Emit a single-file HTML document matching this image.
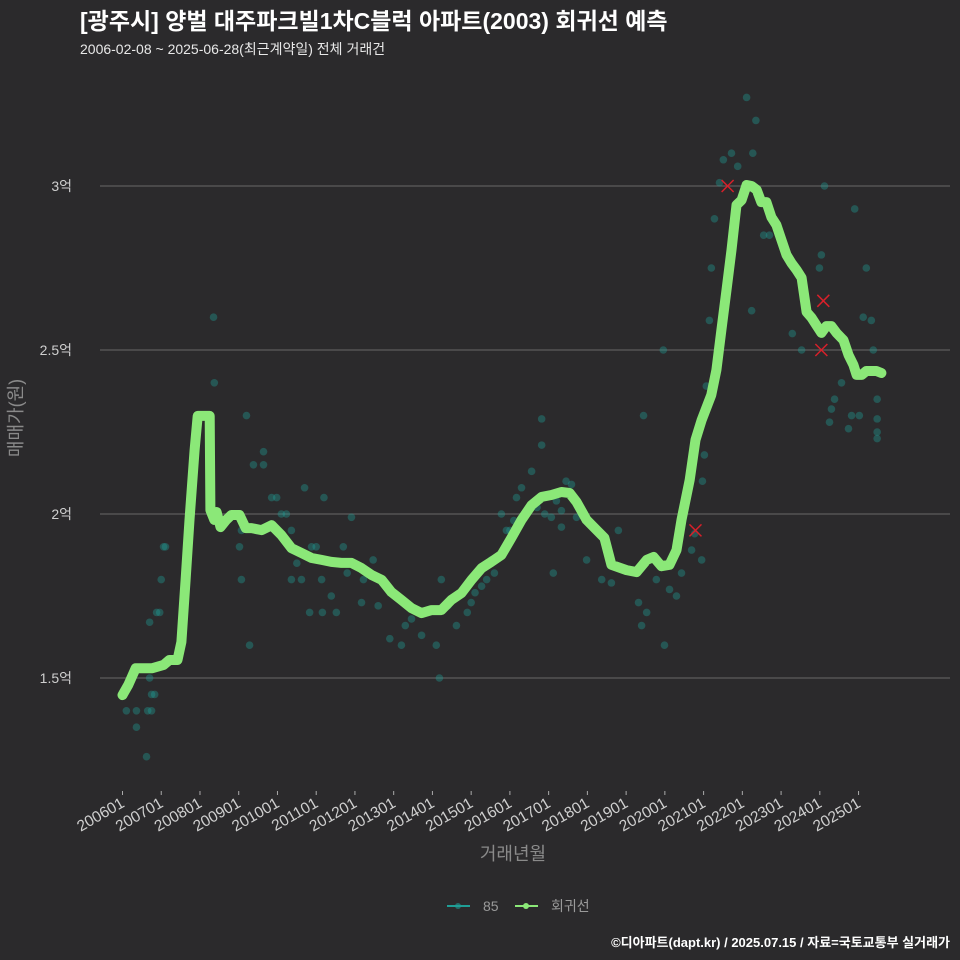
<!DOCTYPE html>
<html><head><meta charset="utf-8">
<style>
body{margin:0;background:#2b2a2c;}
svg{display:block;font-family:"Liberation Sans","Noto Sans CJK KR",sans-serif;}
</style></head>
<body>
<svg id="chart" width="960" height="960" viewBox="0 0 960 960">
<rect width="960" height="960" fill="#2b2a2c"/>
<text x="80" y="29" fill="#ffffff" font-size="23" font-weight="bold">[광주시] 양벌 대주파크빌1차C블럭 아파트(2003) 회귀선 예측</text>
<text x="80" y="54" fill="#e8e8e8" font-size="14">2006-02-08 ~ 2025-06-28(최근계약일) 전체 거래건</text>
<g id="grid"></g>
<g id="yticks"></g>
<g id="xticks"></g>
<g id="points"></g>
<path id="regline" fill="none" stroke="#8be878" stroke-width="10" stroke-linejoin="round" stroke-linecap="round"/>
<g id="marks"></g>
<text transform="translate(22,418) rotate(-90)" text-anchor="middle" fill="#8a8a8a" font-size="18">매매가(원)</text>
<text x="513" y="860" text-anchor="middle" fill="#8a8a8a" font-size="18">거래년월</text>
<g>
<g>
<line x1="447" y1="906" x2="470" y2="906" stroke="#1f9e96" stroke-width="2"/>
<circle cx="458" cy="906" r="3" fill="#1f9e96" opacity="0.6"/>
<text x="483" y="911" fill="#9a9a9a" font-size="14">85</text></g>
<g>
<line x1="515" y1="906" x2="538" y2="906" stroke="#8be878" stroke-width="2"/>
<circle cx="526" cy="906" r="3" fill="#8be878"/>
<text x="551" y="911" fill="#9a9a9a" font-size="14">회귀선</text></g>
</g>
<text x="950" y="947" text-anchor="end" fill="#ffffff" font-size="13" font-weight="bold">©디아파트(dapt.kr) / 2025.07.15 / 자료=국토교통부 실거래가</text>
</svg>
<script>
const yTickValues=[1.5,2,2.5,3];
const yTickLabels=["1.5억","2억","2.5억","3억"];
const xTickYears=[2006,2007,2008,2009,2010,2011,2012,2013,2014,2015,2016,2017,2018,2019,2020,2021,2022,2023,2024,2025];
const xTickLabels=["200601","200701","200801","200901","201001","201101","201201","201301","201401","201501","201601","201701","201801","201901","202001","202101","202201","202301","202401","202501"];
const lineT=[2006.0,2006.15,2006.34,2006.77,2007.06,2007.21,2007.42,2007.52,2007.63,2007.73,2007.86,2007.94,2008.25,2008.27,2008.37,2008.43,2008.53,2008.68,2008.81,2009.02,2009.18,2009.33,2009.59,2009.85,2010.10,2010.36,2010.62,2010.88,2011.14,2011.39,2011.65,2011.91,2012.17,2012.43,2012.69,2012.94,2013.20,2013.46,2013.72,2013.98,2014.23,2014.49,2014.75,2015.01,2015.27,2015.52,2015.78,2016.04,2016.30,2016.56,2016.82,2017.07,2017.33,2017.54,2017.72,2017.98,2018.24,2018.44,2018.62,2019.01,2019.27,2019.53,2019.71,2019.91,2020.12,2020.30,2020.43,2020.64,2020.79,2020.95,2021.20,2021.33,2021.46,2021.59,2021.72,2021.85,2021.98,2022.11,2022.24,2022.37,2022.49,2022.62,2022.75,2022.88,2023.01,2023.14,2023.27,2023.40,2023.53,2023.66,2023.79,2023.91,2024.04,2024.17,2024.30,2024.43,2024.61,2024.74,2024.87,2024.95,2025.08,2025.20,2025.33,2025.46,2025.59];
const lineV=[1.448,1.479,1.530,1.530,1.540,1.555,1.555,1.610,1.799,1.982,2.195,2.299,2.299,2.012,1.982,2.006,1.960,1.982,1.997,1.997,1.957,1.957,1.951,1.966,1.936,1.896,1.881,1.866,1.860,1.854,1.851,1.851,1.835,1.814,1.799,1.762,1.738,1.713,1.698,1.707,1.707,1.738,1.759,1.799,1.835,1.854,1.875,1.927,1.982,2.027,2.052,2.058,2.067,2.064,2.037,1.982,1.951,1.927,1.845,1.829,1.823,1.860,1.869,1.841,1.845,1.890,1.982,2.104,2.226,2.287,2.363,2.439,2.561,2.683,2.805,2.942,2.957,3.003,3.000,2.988,2.951,2.951,2.905,2.881,2.835,2.790,2.765,2.744,2.720,2.616,2.598,2.576,2.552,2.573,2.573,2.552,2.530,2.485,2.454,2.424,2.424,2.436,2.436,2.436,2.430];
const dotT=[2006.1,2006.36,2006.36,2006.62,2006.65,2006.75,2006.75,2006.7,2006.83,2006.7,2006.88,2006.96,2007.0,2007.06,2007.11,2008.35,2008.37,2009.2,2009.64,2009.38,2009.64,2009.02,2009.07,2009.28,2009.07,2009.46,2009.85,2009.98,2010.1,2010.23,2010.36,2010.62,2010.7,2010.36,2011.2,2010.88,2011.0,2011.14,2011.39,2010.83,2011.16,2011.52,2011.91,2011.7,2012.22,2012.47,2012.17,2012.9,2013.2,2013.46,2013.72,2014.1,2013.85,2014.23,2014.18,2014.62,2015.0,2015.27,2015.52,2015.78,2015.91,2016.17,2016.3,2016.56,2016.82,2016.82,2017.12,2017.07,2017.33,2017.59,2017.72,2017.33,2017.98,2018.37,2018.62,2018.8,2019.32,2019.4,2019.53,2019.45,2019.78,2019.99,2019.96,2020.12,2020.3,2020.43,2020.69,2020.77,2020.95,2020.97,2021.02,2021.07,2021.15,2021.2,2021.28,2021.41,2021.51,2021.72,2021.88,2022.11,2022.27,2022.35,2022.24,2022.55,2022.7,2023.29,2023.53,2023.99,2024.04,2024.12,2024.3,2024.38,2024.25,2024.56,2024.74,2024.82,2024.9,2025.02,2025.2,2025.12,2025.33,2025.38,2025.48,2025.48,2025.48,2025.48,2015.4,2015.6,2016.0,2016.1,2016.7,2016.9,2017.2,2017.45,2017.85,2014.9,2015.1,2014.4,2013.3,2012.6,2010.5,2011.8];
const dotV=[1.40,1.35,1.40,1.26,1.40,1.40,1.45,1.50,1.45,1.67,1.70,1.70,1.80,1.90,1.90,2.60,2.40,2.30,2.19,2.15,2.15,1.90,1.80,1.60,1.95,1.95,2.05,2.05,2.0,2.0,1.95,1.80,2.08,1.80,2.05,1.90,1.90,1.80,1.75,1.70,1.70,1.70,1.99,1.90,1.80,1.86,1.73,1.62,1.60,1.68,1.63,1.60,1.70,1.80,1.50,1.66,1.73,1.78,1.86,2.0,1.95,2.05,2.08,2.13,2.29,2.21,1.82,1.99,2.01,2.09,1.99,1.96,1.86,1.80,1.79,1.95,1.73,1.66,1.70,2.30,1.80,1.60,2.50,1.77,1.75,1.82,1.89,1.94,1.86,2.10,2.18,2.39,2.59,2.75,2.90,3.01,3.08,3.10,3.06,3.27,3.10,3.20,2.62,2.85,2.85,2.55,2.50,2.75,2.79,3.00,2.32,2.35,2.28,2.40,2.26,2.30,2.93,2.30,2.75,2.60,2.59,2.50,2.35,2.29,2.25,2.23,1.80,1.82,1.95,1.98,2.02,2.00,2.04,2.10,2.00,1.70,1.76,1.72,1.66,1.72,1.85,1.82];
const markT=[2021.62,2024.09,2024.04,2020.79];
const markV=[3.0,2.65,2.50,1.95];

const NS="http://www.w3.org/2000/svg";
const xs=t=>122.5+(t-2006)*38.74;
const ys=v=>514-(v-2)*328;
function mk(tag,attrs,parent){const e=document.createElementNS(NS,tag);for(const k in attrs)e.setAttribute(k,attrs[k]);parent.appendChild(e);return e;}
const grid=document.getElementById('grid'),yt=document.getElementById('yticks'),xt=document.getElementById('xticks');
yTickValues.forEach((v,i)=>{
  const l=mk('line',{x1:100,x2:950,y1:ys(v),y2:ys(v),stroke:'#5c5c5c','stroke-width':1.2},grid);
  
  
  const t=mk('text',{x:72,y:ys(v)+5,'text-anchor':'end',fill:'#cfcfcf','font-size':14},yt);
  t.textContent=yTickLabels[i];
  
  
});
xTickYears.forEach((yr,i)=>{
  const x=xs(yr);
  mk('line',{x1:x,x2:x,y1:791,y2:795,stroke:'#aaaaaa'},xt);
  const t=mk('text',{transform:`translate(${x+3},806) rotate(-30)`,'text-anchor':'end',fill:'#cfcfcf','font-size':15.5},xt);
  t.textContent=xTickLabels[i];
  
  
});
const pts=document.getElementById('points');
dotT.forEach((t,i)=>{
  const c=mk('circle',{cx:xs(t),cy:ys(dotV[i]),r:3.8,fill:'#1f9e96','fill-opacity':0.38},pts);
  
  
});
document.getElementById('regline').setAttribute('d',lineT.map((t,i)=>(i?'L':'M')+xs(t).toFixed(1)+','+ys(lineV[i]).toFixed(1)).join(''));
const mg=document.getElementById('marks');
markT.forEach((t,i)=>{
  const x=xs(t),y=ys(markV[i]);
  const p=mk('path',{d:`M${x-6},${y-6}L${x+6},${y+6}M${x-6},${y+6}L${x+6},${y-6}`,stroke:'#d8202a','stroke-width':1.5},mg);
  
  
});
</script>
</body></html>
